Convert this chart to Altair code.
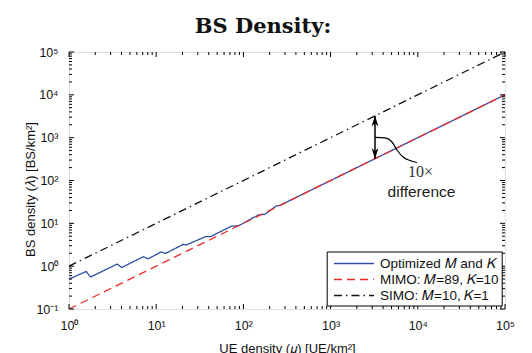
import altair as alt
import pandas as pd

# ---------------- data ----------------
opt_x = [1, 1.57, 1.77, 3.58, 4.02, 7.1, 8.1, 11.3, 12.9, 20.5, 22, 37, 42, 73, 87.5, 148, 177, 237, 263, 1e5]
opt_y = [0.5, 0.75, 0.56, 1.12, 0.93, 1.66, 1.48, 2.14, 2.0, 3.24, 3.12, 4.9, 4.9, 8.6, 8.7, 15.7, 16.3, 25.4, 26.3, 1e4]
mimo_x = [1, 1e5]
mimo_y = [0.1, 1e4]
simo_x = [1, 1e5]
simo_y = [1, 1e5]

series_names = ["Optimized 𝑀 and 𝐾", "MIMO: 𝑀=89, 𝐾=10", "SIMO: 𝑀=10, 𝐾=1"]
series_colors = ["#2f4fa3", "#ee2a2a", "#111111"]
series_dashes = [[1, 0], [8, 5], [8, 4, 1.5, 4]]

x_exps = [0, 1, 2, 3, 4, 5]
y_exps = [-1, 0, 1, 2, 3, 4, 5]

# annotation (data coordinates)
arrow_x = [3230]
arrow_lo = [323]
arrow_hi = [3230]
curve_x = [3230, 4207, 5060, 5770, 6760, 8140, 9790]
curve_y = [1020, 984, 793, 515, 354, 293, 263]
ann_text = ["10×", "difference"]
ann_x = [10740, 11020]
ann_y = [158, 52.5]

W, H = 436, 257
SUP = {"-": "⁻", "0": "⁰", "1": "¹", "2": "²", "3": "³", "4": "⁴", "5": "⁵"}


def label_expr(exps):
    parts = []
    for e in exps:
        v = 10.0 ** e
        lbl = "10" + "".join(SUP[c] for c in str(e))
        parts.append(f"abs(datum.value-{v})<{v * 1e-3} ? '{lbl}'")
    return " : ".join(parts) + " : ''"


x_major = [10.0 ** e for e in x_exps]
y_major = [10.0 ** e for e in y_exps]
x_minor = [m * 10.0 ** e for e in x_exps[:-1] for m in range(2, 10)]
y_minor = [m * 10.0 ** e for e in y_exps[:-1] for m in range(2, 10)]

xscale = alt.Scale(type="log", domain=[1, 1e5], nice=False)
yscale = alt.Scale(type="log", domain=[0.1, 1e5], nice=False)

FONT = "Liberation Sans"

xaxis = alt.Axis(
    values=x_major, labelExpr=label_expr(x_exps), grid=False, ticks=False, domain=False,
    labelFont=FONT, labelFontSize=12.5, labelColor="#111", labelPadding=10, labelFlush=False,
    title="UE density (𝜇) [UE/km²]", titleFont=FONT, titleFontSize=13, titleFontWeight="normal",
    titleColor="#111", titleX=218, titleY=43, titleBaseline="alphabetic", titleAlign="center",
)
yaxis = alt.Axis(
    values=y_major, labelExpr=label_expr(y_exps), grid=False, ticks=False, domain=False,
    labelFont=FONT, labelFontSize=12.5, labelColor="#111", labelPadding=11, labelFlush=False,
    title="BS density (𝜆) [BS/km²]", titleFont=FONT, titleFontSize=13, titleFontWeight="normal",
    titleColor="#111", titleX=-39, titleY=137, titleAngle=-90, titleBaseline="middle", titleAlign="center",
)

color_scale = alt.Scale(domain=series_names, range=series_colors)
dash_scale = alt.Scale(domain=series_names, range=series_dashes)

def series_df(xs, ys, name):
    return pd.DataFrame({"x": xs, "y": ys, "s": name, "o": range(len(xs))})

dfs = [series_df(opt_x, opt_y, series_names[0]),
       series_df(mimo_x, mimo_y, series_names[1]),
       series_df(simo_x, simo_y, series_names[2])]

legend = alt.Legend(
    title=None, orient="none", legendX=257.7, legendY=199.5, fillColor="white", strokeColor="black",
    padding=3, labelFont=FONT, labelFontSize=13.5, labelColor="#111",
    symbolType="M-0.59,0H4.41", symbolSize=256, symbolStrokeWidth=1.3, rowPadding=0, labelOffset=32.3,
)

line_layers = []
for i, d in enumerate(dfs):
    enc = dict(
        x=alt.X("x:Q", scale=xscale, axis=xaxis) if i == 0 else alt.X("x:Q"),
        y=alt.Y("y:Q", scale=yscale, axis=yaxis) if i == 0 else alt.Y("y:Q"),
        color=alt.Color("s:N", scale=color_scale, legend=legend),
        strokeDash=alt.StrokeDash("s:N", scale=dash_scale, legend=legend),
        order="o:Q",
    )
    line_layers.append(alt.Chart(d).mark_line(strokeWidth=1.3).encode(**enc))

# tick marks (inside, all four sides)
def xticks(vals, L):
    d = pd.DataFrame({"x": vals})
    b = alt.Chart(d).mark_rule(color="black", strokeWidth=1).encode(
        x="x:Q", y=alt.value(H), y2=alt.value(H - L))
    t = alt.Chart(d).mark_rule(color="black", strokeWidth=1).encode(
        x="x:Q", y=alt.value(0), y2=alt.value(L))
    return [b, t]

def yticks(vals, L):
    d = pd.DataFrame({"y": vals})
    l = alt.Chart(d).mark_rule(color="black", strokeWidth=1).encode(
        y="y:Q", x=alt.value(0), x2=alt.value(L))
    r = alt.Chart(d).mark_rule(color="black", strokeWidth=1).encode(
        y="y:Q", x=alt.value(W), x2=alt.value(W - L))
    return [l, r]

tick_layers = xticks(x_major, 5) + xticks(x_minor, 3) + yticks(y_major, 5) + yticks(y_minor, 3)

# annotation
arr_df = pd.DataFrame({"x": arrow_x, "y": arrow_lo, "y2": arrow_hi})
shaft = alt.Chart(arr_df).mark_rule(color="black", strokeWidth=1.5).encode(
    x="x:Q", y="y:Q", y2="y2:Q")
head_up = alt.Chart(pd.DataFrame({"x": arrow_x, "y": arrow_hi})).mark_point(
    shape="M0,0L0.65,2L0,1.4L-0.65,2Z", filled=True, color="black", opacity=1, size=114, strokeWidth=0
).encode(x="x:Q", y="y:Q")
head_dn = alt.Chart(pd.DataFrame({"x": arrow_x, "y": arrow_lo})).mark_point(
    shape="M0,0L0.65,-2L0,-1.4L-0.65,-2Z", filled=True, color="black", opacity=1, size=114, strokeWidth=0
).encode(x="x:Q", y="y:Q")
curve = alt.Chart(pd.DataFrame({"x": curve_x, "y": curve_y, "o": range(len(curve_x))})).mark_line(
    color="black", strokeWidth=1.2, interpolate="monotone"
).encode(x="x:Q", y="y:Q", order="o:Q")
txt1 = alt.Chart(pd.DataFrame({"x": ann_x[:1], "y": ann_y[:1], "t": ann_text[:1]})).mark_text(
    font="Liberation Serif", fontSize=16, color="#333", align="center", baseline="middle"
).encode(x="x:Q", y="y:Q", text="t:N")
txt2 = alt.Chart(pd.DataFrame({"x": ann_x[1:], "y": ann_y[1:], "t": ann_text[1:]})).mark_text(
    font=FONT, fontSize=15.5, color="#222", align="center", baseline="middle"
).encode(x="x:Q", y="y:Q", text="t:N")

chart = alt.layer(
    *line_layers, *tick_layers, shaft, head_up, head_dn, curve, txt1, txt2
).properties(
    width=W, height=H,
    title=alt.TitleParams("BS Density:", font="DejaVu Serif", fontSize=21, fontWeight="bold",
                          color="#111", offset=9, anchor="middle", dx=-24),
    autosize=alt.AutoSizeParams(type="none"),
    padding={"left": 69, "top": 52, "right": 27, "bottom": 44},
).configure_view(
    stroke="black", strokeWidth=1.3
).configure_legend(
    strokeWidth=1.2, cornerRadius=0,
).configure(background="white")

chart.save("out.html", embed_options={"renderer": "svg", "actions": False})
